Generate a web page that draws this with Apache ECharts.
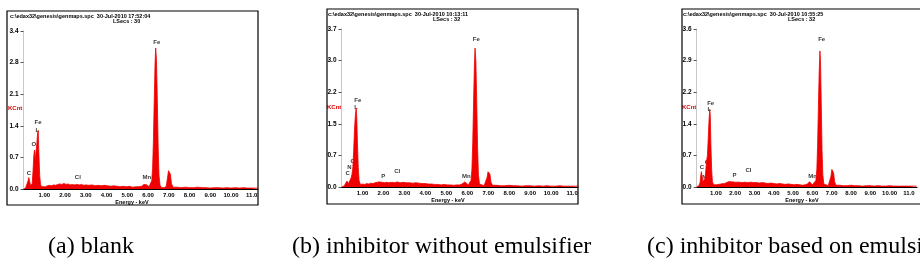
<!DOCTYPE html>
<html><head><meta charset="utf-8">
<script src="https://cdn.jsdelivr.net/npm/echarts@6/dist/echarts.min.js"></script>
<style>html,body{margin:0;padding:0;background:#fff}#c{width:920px;height:266px}</style>
</head><body><div id="c"></div>
<script>
// ---- data (energy keV, counts KCnt) ----
const specA = [[0,0],[0.10,0.02],[0.18,0.05],[0.22,0.18],[0.26,0.25],[0.30,0.16],[0.34,0.07],[0.38,0.05],[0.42,0.12],[0.46,0.40],[0.50,0.75],[0.53,0.85],[0.56,0.62],[0.60,0.60],[0.64,0.98],[0.68,1.22],[0.71,1.28],[0.74,0.80],[0.78,0.30],[0.82,0.10],[0.88,0.05],[0.95,0.06],[1.05,0.05],[1.15,0.07],[1.25,0.08],[1.35,0.07],[1.45,0.09],[1.55,0.08],[1.65,0.10],[1.75,0.11],[1.85,0.10],[1.95,0.12],[2.05,0.10],[2.15,0.11],[2.25,0.09],[2.35,0.10],[2.45,0.09],[2.55,0.10],[2.62,0.11],[2.70,0.09],[2.80,0.10],[2.90,0.08],[3.00,0.09],[3.15,0.08],[3.30,0.09],[3.45,0.07],[3.60,0.08],[3.75,0.07],[3.90,0.08],[4.05,0.07],[4.20,0.06],[4.35,0.07],[4.50,0.06],[4.65,0.05],[4.80,0.06],[4.95,0.05],[5.10,0.06],[5.25,0.04],[5.40,0.05],[5.55,0.05],[5.70,0.06],[5.80,0.10],[5.88,0.13],[5.95,0.09],[6.05,0.05],[6.12,0.07],[6.18,0.18],[6.22,0.45],[6.26,1.05],[6.30,1.95],[6.34,2.75],[6.37,3.08],[6.41,2.80],[6.45,1.90],[6.49,0.90],[6.53,0.30],[6.58,0.08],[6.66,0.03],[6.78,0.03],[6.88,0.06],[6.94,0.25],[6.99,0.40],[7.03,0.44],[7.08,0.32],[7.13,0.12],[7.20,0.04],[7.4,0.04],[7.6,0.03],[7.8,0.04],[8.0,0.03],[8.2,0.03],[8.4,0.04],[8.6,0.03],[8.8,0.03],[9.0,0.02],[9.2,0.03],[9.4,0.03],[9.6,0.02],[9.8,0.03],[10.0,0.02],[10.2,0.03],[10.4,0.02],[10.6,0.03],[10.8,0.02],[11.0,0.02],[11.3,0.02]];
const specB = [[0,0],[0.12,0.02],[0.20,0.05],[0.26,0.14],[0.30,0.16],[0.34,0.08],[0.38,0.05],[0.42,0.12],[0.46,0.22],[0.50,0.30],[0.54,0.45],[0.58,0.85],[0.62,1.35],[0.66,1.68],[0.70,1.86],[0.73,1.62],[0.76,1.05],[0.80,0.45],[0.84,0.15],[0.90,0.06],[1.0,0.07],[1.1,0.06],[1.2,0.08],[1.3,0.07],[1.4,0.09],[1.5,0.08],[1.6,0.10],[1.7,0.11],[1.8,0.12],[1.88,0.14],[1.95,0.11],[2.05,0.10],[2.15,0.11],[2.25,0.10],[2.4,0.11],[2.55,0.10],[2.65,0.12],[2.8,0.10],[2.95,0.11],[3.1,0.10],[3.25,0.10],[3.4,0.09],[3.55,0.10],[3.7,0.09],[3.85,0.08],[4.0,0.08],[4.15,0.07],[4.3,0.07],[4.45,0.06],[4.6,0.06],[4.75,0.05],[4.9,0.06],[5.05,0.05],[5.2,0.05],[5.35,0.04],[5.5,0.05],[5.65,0.05],[5.78,0.08],[5.88,0.12],[5.96,0.09],[6.05,0.05],[6.12,0.06],[6.18,0.16],[6.22,0.42],[6.26,1.05],[6.30,2.00],[6.34,2.90],[6.37,3.27],[6.41,2.95],[6.45,2.00],[6.49,0.95],[6.53,0.30],[6.58,0.07],[6.66,0.03],[6.80,0.03],[6.88,0.06],[6.94,0.22],[6.99,0.36],[7.03,0.40],[7.08,0.30],[7.13,0.11],[7.20,0.04],[7.4,0.04],[7.6,0.03],[7.8,0.03],[8.0,0.04],[8.2,0.03],[8.4,0.03],[8.6,0.02],[8.8,0.03],[9.0,0.03],[9.2,0.02],[9.4,0.03],[9.6,0.02],[9.8,0.03],[10.0,0.02],[10.2,0.02],[10.4,0.03],[10.6,0.02],[10.8,0.02],[11.0,0.02],[11.3,0.02]];
const specC = [[0,0],[0.12,0.03],[0.18,0.10],[0.22,0.28],[0.25,0.35],[0.28,0.25],[0.32,0.12],[0.36,0.08],[0.40,0.09],[0.44,0.20],[0.48,0.40],[0.52,0.60],[0.56,0.72],[0.60,1.08],[0.64,1.48],[0.68,1.77],[0.71,1.62],[0.74,0.98],[0.78,0.40],[0.82,0.12],[0.88,0.05],[0.95,0.04],[1.05,0.05],[1.15,0.06],[1.25,0.07],[1.35,0.06],[1.45,0.08],[1.55,0.09],[1.65,0.12],[1.72,0.16],[1.80,0.12],[1.90,0.10],[2.0,0.11],[2.1,0.10],[2.2,0.11],[2.35,0.10],[2.5,0.11],[2.65,0.10],[2.8,0.11],[2.95,0.10],[3.1,0.10],[3.25,0.09],[3.4,0.10],[3.55,0.09],[3.7,0.08],[3.85,0.09],[4.0,0.08],[4.15,0.07],[4.3,0.08],[4.45,0.07],[4.6,0.06],[4.75,0.07],[4.9,0.06],[5.05,0.05],[5.2,0.06],[5.35,0.05],[5.5,0.04],[5.62,0.05],[5.75,0.07],[5.85,0.12],[5.92,0.10],[6.0,0.05],[6.1,0.05],[6.18,0.15],[6.23,0.40],[6.27,0.95],[6.31,1.80],[6.35,2.60],[6.39,3.10],[6.42,2.85],[6.46,1.90],[6.50,0.85],[6.54,0.28],[6.59,0.07],[6.68,0.03],[6.82,0.03],[6.90,0.07],[6.96,0.24],[7.01,0.40],[7.05,0.43],[7.10,0.32],[7.15,0.12],[7.22,0.04],[7.4,0.04],[7.6,0.03],[7.8,0.03],[8.0,0.04],[8.2,0.03],[8.4,0.03],[8.6,0.02],[8.8,0.03],[9.0,0.03],[9.2,0.02],[9.4,0.03],[9.6,0.02],[9.8,0.02],[10.0,0.03],[10.2,0.02],[10.4,0.02],[10.6,0.02],[10.8,0.02],[11.0,0.02],[11.4,0.02]];

// element labels [name, keV, KCnt]
const labelsA = [['Fe',6.42,3.21],['Fe',0.70,1.46],['L',0.67,1.29],['O',0.50,0.98],['C',0.26,0.35],['Cl',2.62,0.26],['Mn',5.94,0.26]];
const labelsB = [['Fe',6.43,3.48],['Fe',0.78,2.03],['L',0.70,1.88],['O',0.54,0.61],['N',0.38,0.46],['C',0.29,0.32],['P',1.99,0.26],['Cl',2.66,0.38],['Mn',5.95,0.24]];
const labelsC = [['Fe',6.48,3.37],['Fe',0.73,1.91],['L',0.66,1.77],['O',0.54,0.56],['N',0.41,0.21],['C',0.28,0.44],['P',1.97,0.26],['Cl',2.69,0.39],['Mn',6.01,0.25]];

// tick labels
const yTicksA = ['0.0','0.7','1.4','2.1','2.8','3.4'];
const yTicksB = ['0.0','0.7','1.5','2.2','3.0','3.7'];
const yTicksC = ['0.0','0.7','1.4','2.2','2.9','3.6'];
const xTicks = ['','1.00','2.00','3.00','4.00','5.00','6.00','7.00','8.00','9.00','10.00','11.0'];

const headers = ['c:\\edax32\\genesis\\genmaps.spc  30-Jul-2010 17:52:04','c:\\edax32\\genesis\\genmaps.spc  30-Jul-2010 10:13:11','c:\\edax32\\genesis\\genmaps.spc  30-Jul-2010 10:55:25'];
const lsecs = ['LSecs : 30','LSecs : 32','LSecs : 32'];
const captions = ['(a) blank','(b) inhibitor without emulsifier','(c) inhibitor based on emulsifier'];

// ---- layout ----
const panels = [
  {box:[7,11,251,194], grid:{left:23.5,top:31,width:234.5,height:158}, xmax:11.3, ymax:3.45, yint:0.69, ticks:yTicksA, spec:specA, labels:labelsA, head:[10,13], ls:[113,18], kc:[8,105], en:[132,199], cap:48},
  {box:[327,9,251,195], grid:{left:341.5,top:29,width:236.5,height:158}, xmax:11.28, ymax:3.72, yint:0.744, ticks:yTicksB, spec:specB, labels:labelsB, head:[328,11], ls:[433,16], kc:[327,104], en:[448,197], cap:292},
  {box:[682,9,251,195], grid:{left:696.6,top:29,width:236.4,height:158}, xmax:11.42, ymax:3.6, yint:0.72, ticks:yTicksC, spec:specC, labels:labelsC, head:[683,11], ls:[788,16], kc:[682,104], en:[802,197], cap:647}
];

const tiny = {fontFamily:'Liberation Sans', fontSize:6, fontWeight:'bold', color:'#000'};
const option = {animation:false, backgroundColor:'#fff', grid:[], xAxis:[], yAxis:[], series:[], graphic:[]};
panels.forEach((p,i)=>{
  option.grid.push(p.grid);
  option.xAxis.push({type:'value', gridIndex:i, min:0, max:p.xmax, interval:1,
    axisLine:{lineStyle:{color:'#000', width:1}}, axisTick:{show:false}, splitLine:{show:false},
    axisLabel:Object.assign({margin:3, formatter:v=>Math.abs(v-Math.round(v))>0.01?'':(xTicks[Math.round(v)]||'')}, tiny)});
  option.yAxis.push({type:'value', gridIndex:i, min:0, max:p.ymax, interval:p.yint,
    axisLine:{show:true, lineStyle:{color:'#c8c8c8', width:1}}, axisTick:{show:true, length:3, lineStyle:{color:'#555'}},
    splitLine:{show:false},
    axisLabel:Object.assign({align:'left', margin:14, formatter:v=>p.ticks[Math.round(v/p.yint)]||''}, tiny, {fontSize:6.5})});
  option.series.push({type:'line', xAxisIndex:i, yAxisIndex:i, data:p.spec, symbol:'none', silent:true,
    lineStyle:{color:'#f00000', width:0.8}, areaStyle:{color:'#f00000', opacity:1}});
  option.series.push({type:'scatter', xAxisIndex:i, yAxisIndex:i, symbolSize:0, silent:true,
    data:p.labels.map(l=>({name:l[0], value:[l[1],l[2]]})),
    label:Object.assign({show:true, position:'inside', formatter:d=>d.name}, tiny)});
  option.graphic.push({type:'rect', shape:{x:p.box[0], y:p.box[1], width:p.box[2], height:p.box[3]},
    style:{fill:null, stroke:'#000', lineWidth:1.2}, z:100});
  option.graphic.push({type:'text', x:p.head[0], y:p.head[1], style:{text:headers[i], font:'bold 5.5px "Liberation Sans"', fill:'#000'}});
  option.graphic.push({type:'text', x:p.ls[0], y:p.ls[1], style:{text:lsecs[i], font:'bold 5.5px "Liberation Sans"', fill:'#000'}});
  option.graphic.push({type:'text', x:p.kc[0], y:p.kc[1], style:{text:'KCnt', font:'bold 6px "Liberation Sans"', fill:'#e00000'}});
  option.graphic.push({type:'text', x:p.en[0], y:p.en[1], style:{text:'Energy - keV', font:'bold 5.5px "Liberation Sans"', fill:'#000', textAlign:'center'}});
  option.graphic.push({type:'text', x:p.cap, y:247, style:{text:captions[i], font:'24px "Liberation Serif"', fill:'#000', textVerticalAlign:'middle'}});
});
const chart = echarts.init(document.getElementById('c'), null, {renderer:'canvas'});
chart.setOption(option);
</script></body></html>
